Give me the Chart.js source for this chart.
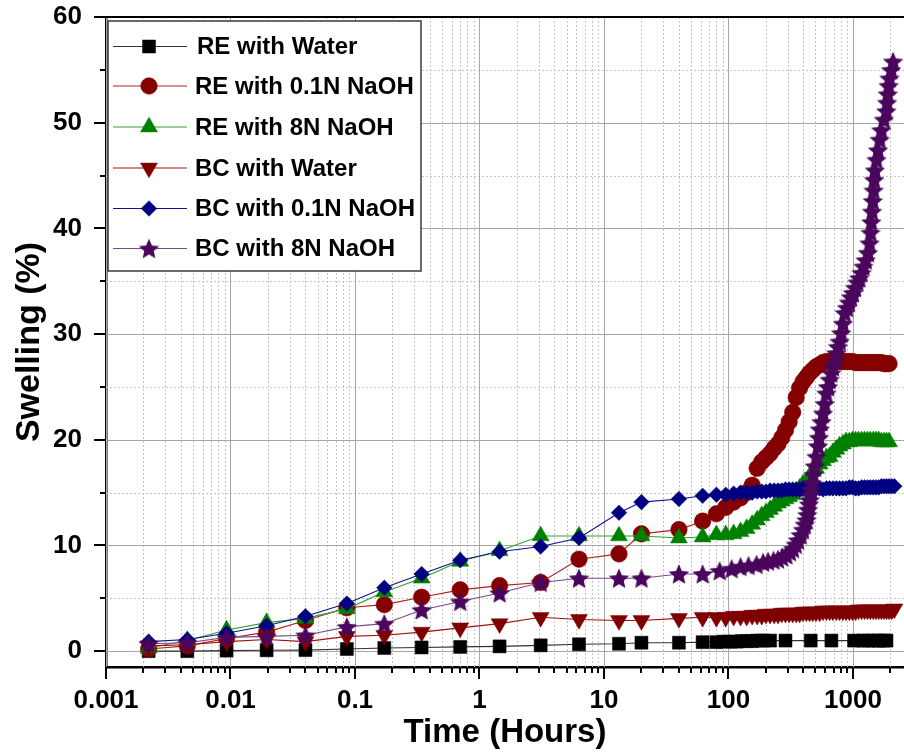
<!DOCTYPE html>
<html><head><meta charset="utf-8">
<script src="https://cdn.jsdelivr.net/npm/chart.js@4.4.0/dist/chart.umd.min.js"></script>
<style>html,body{margin:0;padding:0;background:#fff}canvas{display:block}</style>
</head><body>
<canvas id="c" width="904" height="756"></canvas>
<script>
// ---------------- DATA ----------------
const seriesNames = ['RE with Water','RE with 0.1N NaOH','RE with 8N NaOH','BC with Water','BC with 0.1N NaOH','BC with 8N NaOH'];
const xTickValues = [0.001, 0.01, 0.1, 1, 10, 100, 1000];
const xTickLabels = ['0.001', '0.01', '0.1', '1', '10', '100', '1000'];
const yTickValues = [0, 10, 20, 30, 40, 50, 60];
const yTickLabels = ['0', '10', '20', '30', '40', '50', '60'];

// common early measurement times (hours)
const tEarly = [0.0022, 0.0045, 0.0093, 0.0195, 0.040, 0.086, 0.172, 0.343, 0.70, 1.45, 3.1, 6.3, 13.2, 20, 40, 62];
const reWaterEarly  = [0.0, 0.0, 0.05, 0.08, 0.1, 0.2, 0.3, 0.35, 0.4, 0.45, 0.55, 0.65, 0.7, 0.8, 0.8, 0.85];
const re01Early     = [0.2, 0.5, 1.2, 1.8, 2.9, 4.1, 4.4, 5.1, 5.8, 6.2, 6.5, 8.7, 9.2, 11.1, 11.5, 12.3];
const re8Early      = [0.3, 1.0, 2.0, 2.7, 3.1, 4.0, 5.6, 6.9, 8.5, 9.5, 10.9, 10.9, 10.9, 10.9, 10.7, 10.8];
const bcWaterEarly  = [0.5, 0.6, 0.9, 1.1, 0.9, 1.4, 1.5, 1.8, 2.2, 2.6, 3.2, 3.0, 2.9, 2.9, 3.1, 3.2];
const bc01Early     = [0.9, 1.1, 1.7, 2.4, 3.3, 4.5, 6.0, 7.3, 8.6, 9.4, 9.9, 10.7, 13.1, 14.1, 14.4, 14.7];
const bc8Early      = [0.7, 0.8, 1.3, 1.4, 1.5, 2.3, 2.6, 3.9, 4.7, 5.5, 6.5, 6.9, 6.9, 6.9, 7.3, 7.3];

// later measurement times (hours)
const tLate = [80, 95, 110, 125, 140, 155, 170, 185, 200, 216, 233, 250, 268, 287, 307, 328, 350, 373, 397, 422,
  448, 475, 505, 540, 575, 612, 650, 690, 735, 780, 830, 880, 935, 990, 1050, 1110, 1175, 1240, 1310, 1380,
  1455, 1530, 1610, 1690, 1775, 1860, 1950, 2050, 2150];
const re01Late = [13.0, 13.6, 14.1, 14.5, 15.0, 15.7, 17.3, 17.9, 18.3, 18.7, 19.2, 19.6, 20.2, 20.9, 21.7, 22.6, 24.0, 24.9, 25.5, 25.9,
  26.3, 26.6, 26.9, 27.1, 27.3, 27.4, 27.4, 27.4, 27.4, 27.4, 27.4, 27.4, 27.4, 27.4, 27.3, 27.3, 27.3, 27.3, 27.3, 27.3,
  27.3, 27.3, 27.3, 27.3, 27.2, 27.2, 27.2];
const re8Late = [11.0, 11.0, 11.1, 11.3, 11.6, 12.0, 12.4, 12.8, 13.1, 13.4, 13.7, 14.0, 14.2, 14.4, 14.6, 14.8, 15.1, 15.4, 15.8, 16.0,
  16.5, 17.0, 17.3, 17.7, 18.0, 18.3, 18.4, 18.8, 19.1, 19.4, 19.6, 19.8, 19.8, 19.9, 19.9, 19.9, 19.9, 19.9, 19.9, 19.9,
  19.9, 19.9, 19.9, 19.8, 19.8, 19.8, 19.8];
const bcWaterLate = [3.2, 3.2, 3.3, 3.3, 3.3, 3.4, 3.4, 3.4, 3.5, 3.5, 3.5, 3.5, 3.6, 3.6, 3.6, 3.6, 3.6, 3.6, 3.7, 3.7,
  3.7, 3.7, 3.7, 3.7, 3.8, 3.8, 3.8, 3.8, 3.8, 3.8, 3.8, 3.8, 3.8, 3.8, 3.8, 3.9, 3.9, 3.9, 3.9, 3.9,
  3.9, 3.9, 3.9, 3.9, 3.9, 3.9, 3.9, 3.9, 4.0];
const bc01Late = [14.8, 14.8, 14.9, 15.0, 15.0, 15.0, 15.1, 15.1, 15.1, 15.2, 15.2, 15.2, 15.2, 15.3, 15.3, 15.3, 15.3, 15.3, 15.4, 15.4,
  15.4, 15.4, 15.4, 15.4, 15.3, 15.4, 15.4, 15.4, 15.4, 15.4, 15.4, 15.4, 15.5, 15.5, 15.4, 15.4, 15.5, 15.5, 15.5, 15.5,
  15.5, 15.5, 15.5, 15.6, 15.6, 15.6, 15.6, 15.6, 15.6];

// RE with water: its own later times
const reWaterLateT = [80, 92, 104, 116, 128, 140, 155, 170, 190, 216, 287, 458, 671, 1021, 1200, 1330, 1470, 1620, 1760, 1860];
const reWaterLate  = [0.85, 0.9, 0.9, 0.9, 0.95, 0.95, 0.95, 1.0, 1.0, 1.0, 1.0, 1.0, 1.0, 1.0, 1.0, 1.0, 1.0, 1.0, 1.0, 1.0];

// BC with 8N NaOH: its own later times
const bc8LateT = [85, 106, 125, 145, 168, 190, 208, 230, 250, 270, 292, 312, 330, 347, 362, 380, 397, 410, 423, 430,
  436, 443, 450, 455, 460, 467, 480, 494, 509, 524, 533, 542, 558, 575, 593, 612, 630, 650, 670, 690,
  712, 736, 758, 782, 805, 830, 859, 895, 930, 965, 1000, 1040, 1085, 1125, 1170, 1215, 1265, 1320, 1360, 1385,
  1405, 1425, 1445, 1465, 1480, 1500, 1545, 1590, 1640, 1690, 1770, 1855, 1880, 1905, 1935, 1965, 2030, 2100];
const bc8Late = [7.6, 7.8, 8.0, 8.1, 8.2, 8.4, 8.5, 8.6, 8.7, 8.9, 9.1, 9.4, 9.7, 10.1, 10.5, 11.0, 11.5, 12.0, 12.4, 12.9,
  13.4, 13.9, 14.3, 14.8, 15.3, 15.9, 16.7, 17.5, 18.4, 19.4, 20.2, 21.0, 21.7, 22.5, 23.4, 24.4, 25.0, 25.7, 26.3, 26.9,
  27.5, 28.2, 28.8, 29.3, 30.1, 31.0, 32.0, 32.5, 33.0, 33.5, 33.9, 34.4, 34.9, 35.3, 35.8, 36.4, 37.0, 37.7, 38.6, 39.6,
  40.6, 41.6, 42.6, 43.6, 44.6, 45.5, 46.5, 47.4, 48.4, 49.3, 50.3, 51.1, 51.9, 52.7, 53.5, 54.2, 55.0, 55.8, 56.7];

// ---------------- BUILD ----------------
function pts(ts, vs) { return vs.map((v, i) => ({ x: ts[i], y: v })); }

function makeStar(color, R, r) {
  const s = 24;
  const c = document.createElement('canvas'); c.width = s; c.height = s;
  const g = c.getContext('2d');
  g.fillStyle = color; g.beginPath();
  for (let i = 0; i < 10; i++) {
    const a = -Math.PI / 2 + i * Math.PI / 5;
    const rr = i % 2 ? r : R;
    g.lineTo(s / 2 + rr * Math.cos(a), s / 2 + 1 + rr * Math.sin(a));
  }
  g.closePath(); g.fill();
  return c;
}

const C_BLACK = '#000000', C_RED = '#850000', C_GREEN = '#008000', C_DRED = '#7f0000', C_NAVY = '#000080', C_PURPLE = '#4a065c';
const starImg = makeStar(C_PURPLE, 10.8, 5.0);

const styles = [
  { color: C_BLACK, line: '#333333', pointStyle: 'rect', radius: 9.2, rot: 0 },
  { color: C_RED, line: '#b02020', pointStyle: 'circle', radius: 8.3, rot: 0 },
  { color: C_GREEN, line: '#30a030', pointStyle: 'triangle', radius: 9.8, rot: 0 },
  { color: C_DRED, line: '#a01010', pointStyle: 'triangle', radius: 9.8, rot: 180 },
  { color: C_NAVY, line: '#101090', pointStyle: 'rectRot', radius: 7.8, rot: 0 },
  { color: C_PURPLE, line: '#7a4a8a', pointStyle: starImg, radius: 10, rot: 0 },
];

const seriesData = [
  pts(tEarly.concat(reWaterLateT), reWaterEarly.concat(reWaterLate)),
  pts(tEarly.concat(tLate), re01Early.concat(re01Late)),
  pts(tEarly.concat(tLate), re8Early.concat(re8Late)),
  pts(tEarly.concat(tLate), bcWaterEarly.concat(bcWaterLate)),
  pts(tEarly.concat(tLate), bc01Early.concat(bc01Late)),
  pts(tEarly.concat(bc8LateT), bc8Early.concat(bc8Late)),
];

const datasets = seriesNames.map((name, i) => ({
  label: name,
  data: seriesData[i],
  borderColor: styles[i].line,
  backgroundColor: styles[i].color,
  borderWidth: 1.1,
  pointStyle: styles[i].pointStyle,
  pointRadius: styles[i].radius,
  pointRotation: styles[i].rot,
  pointBackgroundColor: styles[i].color,
  pointBorderColor: styles[i].color,
  pointBorderWidth: 0.5,
  tension: 0,
  order: 5 - i,
  clip: false,
}));

const FONT = "'Liberation Sans', Arial, Helvetica, sans-serif";

const decoPlugin = {
  id: 'deco',
  beforeDatasetsDraw(chart) {
    const { ctx, chartArea: a, scales: { x, y } } = chart;
    ctx.save();
    ctx.lineWidth = 1;
    const lo = Math.floor(Math.log10(x.min)), hi = Math.ceil(Math.log10(x.max));
    ctx.strokeStyle = '#c4c4c4'; ctx.setLineDash([2, 2]);
    for (let d = lo; d <= hi; d++) for (let m = 2; m <= 9; m++) {
      const v = m * Math.pow(10, d); if (v <= x.min || v >= x.max) continue;
      const px = Math.round(x.getPixelForValue(v)) + 0.5;
      ctx.beginPath(); ctx.moveTo(px, a.top); ctx.lineTo(px, a.bottom); ctx.stroke();
    }
    for (let v = 5; v < 60; v += 10) {
      const py = Math.round(y.getPixelForValue(v)) + 0.5;
      ctx.beginPath(); ctx.moveTo(a.left, py); ctx.lineTo(a.right, py); ctx.stroke();
    }
    ctx.setLineDash([]); ctx.strokeStyle = '#a6a6a6';
    for (const v of xTickValues) {
      const px = Math.round(x.getPixelForValue(v)) + 0.5;
      ctx.beginPath(); ctx.moveTo(px, a.top); ctx.lineTo(px, a.bottom); ctx.stroke();
    }
    for (const v of yTickValues) {
      const py = Math.round(y.getPixelForValue(v)) + 0.5;
      ctx.beginPath(); ctx.moveTo(a.left, py); ctx.lineTo(a.right, py); ctx.stroke();
    }
    ctx.restore();
  },
  afterDraw(chart) {
    const { ctx, chartArea: a, scales: { x, y } } = chart;
    ctx.save();
    ctx.strokeStyle = '#000'; ctx.lineWidth = 2;
    ctx.beginPath(); ctx.moveTo(a.left, a.top); ctx.lineTo(a.right, a.top); ctx.stroke();
    const lo = Math.floor(Math.log10(x.min)), hi = Math.ceil(Math.log10(x.max));
    for (let d = lo; d <= hi; d++) for (let m = 1; m <= 9; m++) {
      const v = m * Math.pow(10, d); if (v < x.min * 0.999 || v > x.max) continue;
      const px = Math.round(x.getPixelForValue(v));
      const len = m === 1 ? 12 : 6;
      ctx.beginPath(); ctx.moveTo(px, a.bottom); ctx.lineTo(px, a.bottom + len); ctx.stroke();
    }
    for (let v = 0; v <= 60; v += 5) {
      const py = Math.round(y.getPixelForValue(v));
      const len = v % 10 === 0 ? 12 : 6;
      ctx.beginPath(); ctx.moveTo(a.left, py); ctx.lineTo(a.left - len, py); ctx.stroke();
    }
    // legend
    const bx = 108, by = 21, bw = 313, bh = 250;
    ctx.fillStyle = '#fff'; ctx.fillRect(bx, by, bw, bh);
    ctx.strokeStyle = '#3a3a3a'; ctx.lineWidth = 1.5;
    ctx.strokeRect(bx, by, bw, bh);
    const rows = [46.5, 86, 127, 168, 208.5, 248.5];
    datasets.forEach((ds, i) => {
      const ry = rows[i];
      ctx.strokeStyle = ds.borderColor; ctx.lineWidth = 1.2;
      ctx.beginPath(); ctx.moveTo(113, ry); ctx.lineTo(187, ry); ctx.stroke();
      ctx.save();
      ctx.fillStyle = ds.pointBackgroundColor;
      ctx.strokeStyle = ds.pointBorderColor;
      ctx.lineWidth = 0.5;
      Chart.helpers.drawPoint(ctx, {
        pointStyle: ds.pointStyle, radius: ds.pointRadius, rotation: ds.pointRotation, borderWidth: 0.5
      }, 149, ry);
      ctx.restore();
      ctx.font = 'bold 24px ' + FONT;
      ctx.textBaseline = 'middle'; ctx.textAlign = 'left';
      ctx.fillStyle = '#000';
      ctx.fillText(ds.label, i === 0 ? 197 : 195, ry + 1);
    });
    ctx.restore();
  }
};

Chart.defaults.font.family = FONT;
Chart.defaults.color = '#000';

new Chart(document.getElementById('c'), {
  type: 'line',
  data: { datasets },
  options: {
    responsive: false,
    animation: false,
    layout: { autoPadding: false, padding: { top: 17, right: 0, left: 0, bottom: 0 } },
    plugins: { legend: { display: false }, tooltip: { enabled: false } },
    scales: {
      x: {
        type: 'logarithmic', position: 'bottom', min: 0.001, max: 2570,
        afterBuildTicks: s => { s.ticks = xTickValues.map(v => ({ value: v, major: true })); },
        afterFit: s => { s.height = 89; s.paddingLeft = 0; s.paddingRight = 0; },
        grid: { display: false, drawTicks: false },
        border: { display: true, color: '#000', width: 2.5 },
        ticks: { autoSkip: false, maxRotation: 0, minRotation: 0, padding: 18,
          font: { size: 26, weight: 'bold' },
          callback: (v, i) => xTickLabels[i] },
        title: { display: true, text: 'Time (Hours)', font: { size: 33, weight: 'bold' }, padding: { top: 0, bottom: 3 } },
      },
      y: {
        type: 'linear', position: 'left', min: -1.5, max: 60,
        afterBuildTicks: s => { s.ticks = yTickValues.map(v => ({ value: v })); },
        afterFit: s => { s.width = 106; s.paddingTop = 0; s.paddingBottom = 0; },
        grid: { display: false, drawTicks: false },
        border: { display: true, color: '#000', width: 2.5 },
        ticks: { padding: 24, font: { size: 26, weight: 'bold' }, callback: (v, i) => yTickLabels[i] },
        title: { display: true, text: 'Swelling (%)', font: { size: 34, weight: 'bold' }, padding: { top: 9, bottom: 0 } },
      }
    }
  },
  plugins: [decoPlugin]
});
</script>
</body></html>
